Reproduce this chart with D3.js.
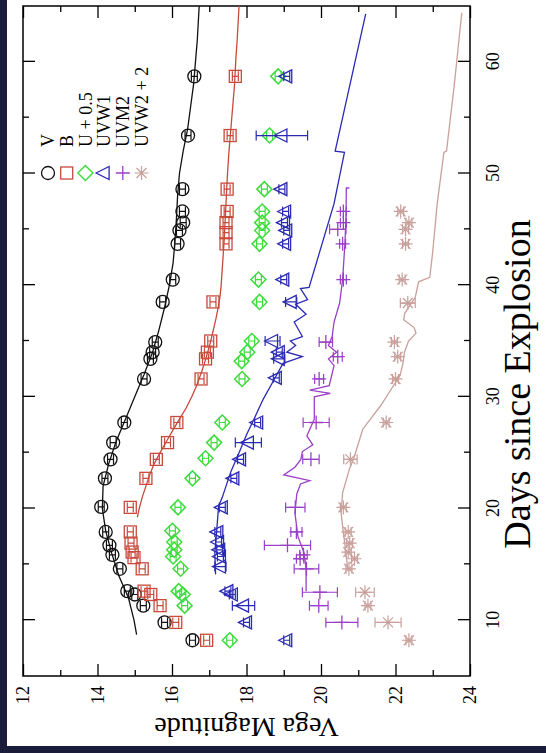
<html>
<head>
<script src="https://d3js.org/d3.v7.min.js"></script>
<style>
  body { margin: 0; background: #1b1c3a; }
  svg { display: block; }
  text { font-family: "Liberation Serif", "DejaVu Serif", serif; fill: #000; }
</style>
</head>
<body>
<div id="chart"></div>
<script>
// observed points: [day, magnitude, error]
var vPts = [[8.2,16.55,0.08],[9.8,15.8,0.08],[11.3,15.23,0.08],[12.3,15.0,0.08],[12.6,14.8,0.08],[14.6,14.6,0.08],
  [15.85,14.4,0.08],[16.7,14.32,0.08],[17.9,14.22,0.08],[20.15,14.1,0.08],[22.7,14.2,0.08],[24.4,14.35,0.08],
  [25.9,14.42,0.08],[27.7,14.72,0.08],[31.6,15.25,0.08],[33.4,15.42,0.08],[34.0,15.48,0.08],[34.9,15.55,0.08],
  [38.5,15.75,0.08],[40.5,16.02,0.08],[43.7,16.15,0.08],[44.9,16.2,0.08],[45.6,16.3,0.08],[46.6,16.28,0.08],
  [48.6,16.28,0.08],[53.4,16.43,0.08],[58.7,16.6,0.08]];
var bPts = [[8.2,16.93,0.08],[9.8,16.1,0.08],[11.3,15.68,0.08],[12.3,15.43,0.08],[12.6,15.25,0.08],[14.6,15.2,0.08],
  [15.6,14.98,0.08],[16.1,14.93,0.08],[16.9,14.9,0.08],[17.9,14.88,0.08],[20.1,14.88,0.08],[22.7,15.3,0.08],
  [24.4,15.58,0.08],[25.9,15.88,0.08],[27.7,16.13,0.08],[31.6,16.78,0.08],[33.4,16.9,0.08],[34.0,16.95,0.08],
  [35.0,17.04,0.08],[38.5,17.1,0.08],[43.7,17.45,0.08],[44.7,17.45,0.08],[45.6,17.45,0.08],[46.6,17.48,0.08],
  [48.6,17.48,0.08],[53.4,17.56,0.08],[58.7,17.7,0.08]];
var uPts = [[8.2,17.55,0.08],[11.3,16.34,0.08],[12.3,16.29,0.08],[12.6,16.18,0.08],[14.6,16.23,0.08],[15.7,16.03,0.08],
  [16.3,16.06,0.08],[17.0,16.06,0.08],[18.0,16.01,0.08],[20.1,16.16,0.08],[22.7,16.55,0.08],[24.5,16.9,0.08],
  [25.9,17.13,0.08],[27.7,17.35,0.08],[31.6,17.88,0.08],[33.2,17.87,0.08],[34.0,18.02,0.08],[35.0,18.14,0.08],
  [38.5,18.35,0.08],[40.5,18.32,0.08],[43.7,18.35,0.08],[44.9,18.42,0.08],[45.6,18.42,0.08],[46.6,18.42,0.08],
  [48.6,18.48,0.08],[53.4,18.62,0.08],[58.7,18.85,0.08]];
var w1Pts = [[8.2,19.08,0.08],[9.8,18.0,0.08],[11.3,17.92,0.3],[12.3,17.62,0.08],[12.6,17.5,0.08],[14.8,17.3,0.15],
  [15.7,17.3,0.08],[16.3,17.28,0.08],[17.0,17.25,0.08],[17.9,17.23,0.08],[20.1,17.35,0.08],[22.7,17.66,0.08],
  [24.4,17.84,0.08],[25.9,18.05,0.35],[27.7,18.3,0.08],[31.7,18.8,0.08],[33.4,18.88,0.15],[34.0,18.88,0.08],
  [35.0,18.7,0.2],[38.5,19.2,0.15],[40.5,19.0,0.08],[43.7,19.05,0.08],[44.9,19.08,0.08],[45.6,19.02,0.08],
  [46.6,19.05,0.08],[48.6,18.95,0.08],[53.4,18.95,0.69],[58.7,19.08,0.08]];
var m2Pts = [[9.8,20.56,0.43],[11.3,19.94,0.25],[12.5,19.97,0.47],[14.6,19.61,0.33],[15.5,19.44,0.1],[15.85,19.53,0.1],
  [16.7,19.1,0.62],[17.9,19.34,0.15],[20.1,19.31,0.26],[24.4,19.73,0.22],[27.7,19.87,0.35],[31.6,19.95,0.12],
  [33.6,20.45,0.12],[34.9,20.13,0.18],[40.5,20.6,0.08],[43.7,20.58,0.08],[45.0,20.45,0.22],[45.6,20.6,0.08],
  [46.6,20.6,0.08]];
var w2Pts = [[8.2,22.36,0.08],[9.8,21.8,0.35],[11.3,21.26,0.08],[12.5,21.18,0.25],[14.6,20.75,0.08],[15.5,20.9,0.08],
  [16.1,20.73,0.08],[16.9,20.77,0.08],[17.9,20.73,0.08],[20.1,20.6,0.08],[24.4,20.79,0.18],[27.7,21.75,0.08],
  [31.6,22.0,0.08],[33.6,22.06,0.08],[34.9,21.97,0.08],[38.4,22.33,0.2],[40.5,22.18,0.08],[43.7,22.27,0.08],
  [45.0,22.27,0.08],[45.6,22.36,0.08],[46.6,22.14,0.08]];

// model curves: [day, magnitude]
var vLine = [[8.7,15.05],[10,14.98],[12,14.83],[14,14.57],[16,14.38],[18,14.22],[20,14.13],[22,14.15],[24,14.3],
  [26,14.5],[28,14.75],[30,15.0],[32,15.25],[34,15.48],[36,15.65],[38,15.8],[40,15.93],[42,16.03],[44,16.08],
  [46,16.12],[48,16.15],[50,16.2],[52,16.3],[54,16.42],[56,16.5],[58,16.58],[60,16.63],[62,16.68],[65,16.73]];
var bLine = [[19.2,15.07],[20,15.12],[21,15.2],[22,15.3],[23,15.4],[24,15.52],[25,15.68],[26,15.85],[27,16.02],
  [28,16.2],[29,16.38],[30,16.53],[31,16.66],[32,16.77],[33,16.87],[34,16.96],[35,17.04],[36,17.11],[37,17.18],
  [38,17.24],[39,17.29],[40,17.32],[42,17.36],[44,17.4],[46,17.43],[48,17.46],[50,17.49],[52,17.53],[54,17.58],
  [56,17.63],[58,17.68],[60,17.71],[62,17.75],[65,17.8]];
var w1Line = [[14.1,17.17],[16,17.15],[18,17.2],[20.2,17.25],[21,17.35],[22,17.45],[23.3,17.58],[25,17.8],[26.6,18.0],
  [28,18.2],[29.8,18.45],[31.6,18.75],[33.0,18.98],[33.6,19.5],[34.0,19.08],[34.6,19.32],[35.0,19.18],[35.4,19.5],
  [36.7,19.28],[37.4,19.6],[38.3,19.32],[38.7,19.64],[39.7,19.45],[39.8,19.68],[47.3,20.35],[51.9,20.63],
  [52.0,20.38],[64.3,21.2]];
var m2Line = [[12.6,19.6],[14.5,19.6],[16.0,19.55],[17.5,19.38],[19.6,19.3],[21.3,19.35],[22.2,19.45],[22.5,19.7],
  [23.0,19.0],[23.7,19.3],[24.4,19.46],[25.1,19.5],[25.7,19.78],[26.5,19.62],[28.0,19.82],[30.0,19.82],[30.3,20.25],
  [30.6,19.7],[31.0,20.22],[32.8,20.35],[33.4,20.2],[34.0,20.42],[34.6,20.2],[35.4,20.3],[36.7,20.35],[38.4,20.5],
  [40.5,20.58],[43.6,20.64],[46,20.67],[48.7,20.68],[48.7,20.76]];
var w2Line = [[14.5,20.72],[16.0,20.67],[18.4,20.58],[19.6,20.54],[21.4,20.58],[23.5,20.76],[24.7,20.9],[27.1,21.12],
  [29.2,21.6],[30.5,21.85],[31.9,22.12],[33.0,22.2],[34.0,22.24],[35.0,22.35],[35.7,22.55],[36.2,22.5],[36.9,22.22],
  [37.5,22.25],[38.9,22.53],[40.3,22.62],[40.7,22.92],[43.0,23.0],[47.3,23.12],[51.9,23.3],[52.0,23.37],
  [58.0,23.58],[64.4,23.78]];

var dayMajor = [10, 20, 30, 40, 50, 60];
var dayMinor = [15, 25, 35, 45, 55];
var magMajor = [12, 14, 16, 18, 20, 22, 24];
var magMinor = [13, 15, 17, 19, 21, 23];
var legendNames = ["V", "B", "U + 0.5", "UVW1", "UVM2", "UVW2 + 2"];

var series = [
  {pts: vPts, line: vLine, color: "#111111", sym: "circle"},
  {pts: bPts, line: bLine, color: "#c84a3c", sym: "square"},
  {pts: uPts, line: null, color: "#3ddc3d", sym: "diamond"},
  {pts: w1Pts, line: w1Line, color: "#2a2ab4", sym: "triangle"},
  {pts: m2Pts, line: m2Line, color: "#9a40c8", sym: "plus"},
  {pts: w2Pts, line: w2Line, color: "#c9a09b", sym: "star"}
];

var svg = d3.select("#chart").append("svg")
    .attr("width", 546)
    .attr("height", 753);

svg.append("rect").attr("width", 546).attr("height", 753).attr("fill", "#1b1c3a");
svg.append("rect").attr("x", 7).attr("y", 0).attr("width", 539).attr("height", 746).attr("fill", "#ffffff");

// the figure is drawn upright and then turned a quarter turn
var pw = 670, ph = 447;
var g = svg.append("g").attr("transform", "translate(23,676) rotate(-90)");

var x = d3.scaleLinear().domain([5, 65]).range([0, pw]);
var y = d3.scaleLinear().domain([12, 24]).range([0, ph]);

function axisStyle(sel) {
  sel.select(".domain").remove();
  sel.selectAll("line").attr("stroke", "#000").attr("stroke-width", 1.3);
  sel.selectAll("text").style("font-size", "18px").attr("fill", "#000");
}

g.append("g").attr("transform", "translate(0," + ph + ")")
  .call(d3.axisBottom(x).tickValues(dayMajor).tickSize(-12).tickPadding(16).tickSizeOuter(0)).call(axisStyle);
g.append("g").attr("transform", "translate(0," + ph + ")")
  .call(d3.axisBottom(x).tickValues(dayMinor).tickSize(-6).tickFormat("").tickSizeOuter(0)).call(axisStyle);
g.append("g")
  .call(d3.axisTop(x).tickValues(dayMajor).tickSize(-12).tickFormat("").tickSizeOuter(0)).call(axisStyle);
g.append("g")
  .call(d3.axisTop(x).tickValues(dayMinor).tickSize(-6).tickFormat("").tickSizeOuter(0)).call(axisStyle);
g.append("g")
  .call(d3.axisLeft(y).tickValues(magMajor).tickSize(-12).tickPadding(10).tickSizeOuter(0)).call(axisStyle);
g.append("g")
  .call(d3.axisLeft(y).tickValues(magMinor).tickSize(-6).tickFormat("").tickSizeOuter(0)).call(axisStyle);
g.append("g").attr("transform", "translate(" + pw + ",0)")
  .call(d3.axisRight(y).tickValues(magMajor).tickSize(-12).tickFormat("").tickSizeOuter(0)).call(axisStyle);
g.append("g").attr("transform", "translate(" + pw + ",0)")
  .call(d3.axisRight(y).tickValues(magMinor).tickSize(-6).tickFormat("").tickSizeOuter(0)).call(axisStyle);

g.append("rect").attr("width", pw).attr("height", ph)
  .attr("fill", "none").attr("stroke", "#000").attr("stroke-width", 1.5);

g.append("text")
  .attr("x", 292).attr("y", ph + 60)
  .attr("text-anchor", "middle")
  .style("font-size", "38px")
  .text("Days since Explosion");

g.append("text")
  .attr("transform", "translate(-42," + (ph / 2) + ") rotate(-90)")
  .attr("text-anchor", "middle")
  .style("font-size", "28px")
  .text("Vega Magnitude");

// marker shapes
function drawSymbol(sel, sym, color) {
  if (sym === "circle") {
    sel.append("circle").attr("r", 6.5).attr("fill", "none").attr("stroke", color).attr("stroke-width", 1.3);
  } else if (sym === "square") {
    sel.append("rect").attr("x", -6).attr("y", -6).attr("width", 12).attr("height", 12)
      .attr("fill", "none").attr("stroke", color).attr("stroke-width", 1.3);
  } else if (sym === "diamond") {
    sel.append("path").attr("d", "M0,-7.5L7.5,0L0,7.5L-7.5,0Z")
      .attr("fill", "none").attr("stroke", color).attr("stroke-width", 1.5);
  } else if (sym === "triangle") {
    sel.append("path").attr("d", "M0,-8L6.5,5L-6.5,5Z")
      .attr("fill", "none").attr("stroke", color).attr("stroke-width", 1.3);
  } else if (sym === "plus") {
    sel.append("path").attr("d", "M-7,0H7M0,-7V7")
      .attr("fill", "none").attr("stroke", color).attr("stroke-width", 1.3);
  } else {
    sel.append("path").attr("d", "M-7,0H7M0,-7V7M-5,-5L5,5M-5,5L5,-5")
      .attr("fill", "none").attr("stroke", color).attr("stroke-width", 1.2);
  }
}

var line = d3.line().x(function(d) { return x(d[0]); }).y(function(d) { return y(d[1]); });

series.forEach(function(s) {
  if (s.line) {
    g.append("path").datum(s.line)
      .attr("d", line)
      .attr("fill", "none")
      .attr("stroke", s.color)
      .attr("stroke-width", 1.3);
  }
});

series.forEach(function(s) {
  var pts = g.append("g").selectAll("g").data(s.pts).enter().append("g")
    .attr("transform", function(d) { return "translate(" + x(d[0]) + "," + y(d[1]) + ")"; });
  // error bars
  pts.append("path")
    .attr("d", function(d) {
      var lo = y(d[1] - d[2]) - y(d[1]), hi = y(d[1] + d[2]) - y(d[1]);
      return "M0," + lo + "V" + hi + "M-5," + lo + "H5M-5," + hi + "H5";
    })
    .attr("fill", "none").attr("stroke", s.color).attr("stroke-width", 1.2);
  pts.each(function() { drawSymbol(d3.select(this), s.sym, s.color); });
});

// legend
var leg = g.append("g").attr("transform", "translate(503,25)");
var items = leg.selectAll("g").data(series).enter().append("g")
  .attr("transform", function(d, i) { return "translate(0," + (i * 18.7) + ")"; });
items.each(function(d) { drawSymbol(d3.select(this), d.sym, d.color); });
items.append("text")
  .attr("x", 26).attr("dy", "0.35em")
  .style("font-size", "18px")
  .text(function(d, i) { return legendNames[i]; });
</script>
</body>
</html>
